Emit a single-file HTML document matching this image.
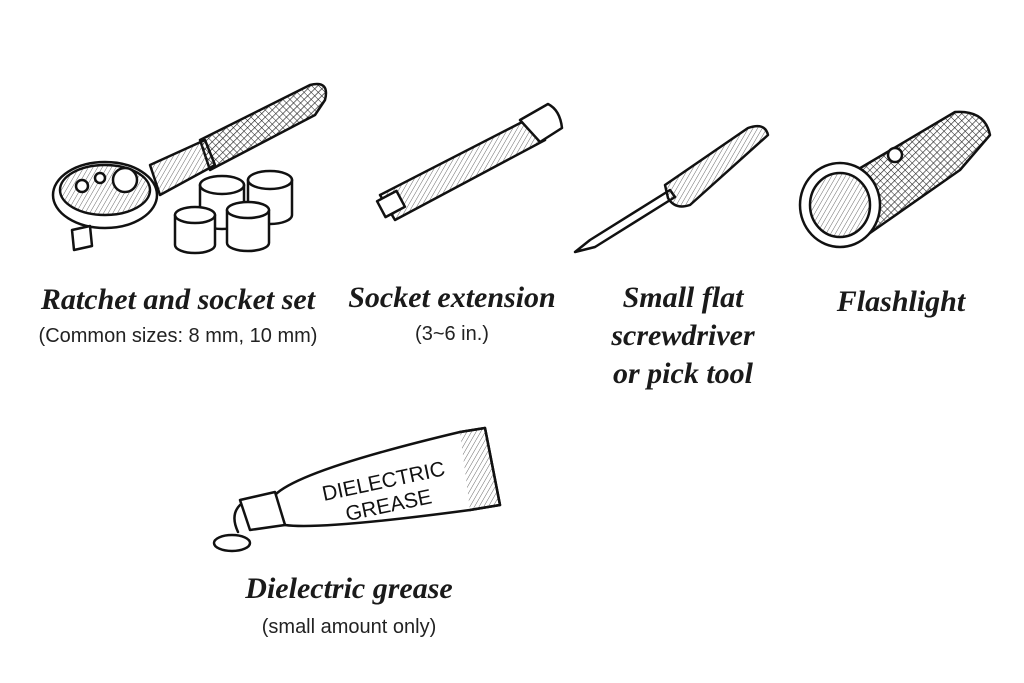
<!DOCTYPE html>
<html><head><meta charset="utf-8"><style>
html,body{margin:0;padding:0;background:#fff;}
.wrap{position:relative;width:1024px;height:683px;overflow:hidden;background:#fff;}
.t{position:absolute;transform:translateX(-50%);white-space:nowrap;font-family:"Liberation Serif",serif;font-style:italic;font-weight:bold;color:#1a1a1a;font-size:30px;line-height:34px;text-align:center;}
.s{position:absolute;transform:translateX(-50%);white-space:nowrap;font-family:"Liberation Sans",sans-serif;color:#222;font-size:20px;line-height:22px;}
svg{position:absolute;left:0;top:0;}
</style></head><body><div class="wrap">
<svg width="1024" height="683" viewBox="0 0 1024 683" fill="none" stroke="#111" stroke-width="2.5" stroke-linejoin="round" stroke-linecap="round">
<defs>
<pattern id="h" width="5" height="5" patternUnits="userSpaceOnUse" patternTransform="rotate(45)"><line x1="0" y1="0" x2="0" y2="5" stroke="#222" stroke-width="1.3"/><line x1="0" y1="0" x2="5" y2="0" stroke="#222" stroke-width="1"/></pattern>
<pattern id="l" width="4" height="4" patternUnits="userSpaceOnUse" patternTransform="rotate(30)"><line x1="0" y1="0" x2="0" y2="4" stroke="#444" stroke-width="0.8"/></pattern>
</defs>
<path d="M200,140 L310,85 Q330,80 325,100 L315,115 L210,170 Z" fill="url(#h)"/>
<path d="M150,165 L205,140 L215,165 L160,195 Z" fill="url(#l)"/>
<ellipse cx="105" cy="195" rx="52" ry="33" fill="#fff"/>
<ellipse cx="105" cy="190" rx="45" ry="25" fill="url(#l)"/>
<circle cx="125" cy="180" r="12" fill="#fff"/><circle cx="82" cy="186" r="6" fill="#fff"/><circle cx="100" cy="178" r="5" fill="#fff"/>
<path d="M72,230 L90,226 L92,246 L74,250 Z" fill="#fff"/>
<g fill="#fff"><path d="M200,185 v35 a22,9 0 0 0 44,0 v-35"/><ellipse cx="222" cy="185" rx="22" ry="9"/>
<path d="M248,180 v35 a22,9 0 0 0 44,0 v-35"/><ellipse cx="270" cy="180" rx="22" ry="9"/>
<path d="M175,215 v30 a20,8 0 0 0 40,0 v-30"/><ellipse cx="195" cy="215" rx="20" ry="8"/>
<path d="M227,210 v33 a21,8 0 0 0 42,0 v-33"/><ellipse cx="248" cy="210" rx="21" ry="8"/></g>
<path d="M380,195 L530,118 L545,140 L395,220 Z" fill="url(#l)"/>
<path d="M520,120 L548,104 Q560,110 562,128 L540,142 Z" fill="#fff"/>
<rect x="380" y="195" width="22" height="18" transform="rotate(-28 391 204)" fill="#fff"/>
<path d="M575,252 L590,240 L670,190 L675,197 L595,247 Z" fill="#fff"/>
<path d="M665,185 L748,128 Q765,122 768,135 L690,205 Q675,210 668,198 Z" fill="url(#l)"/>
<path d="M840,180 L955,112 Q985,110 990,135 L960,170 L860,240 Z" fill="url(#h)"/>
<ellipse cx="840" cy="205" rx="40" ry="42" fill="#fff"/>
<ellipse cx="840" cy="205" rx="30" ry="32" fill="url(#l)"/>
<circle cx="895" cy="155" r="7" fill="#fff"/>
<path d="M275,495 Q300,470 460,432 L485,428 L500,505 L470,510 Q320,530 285,525 Z" fill="#fff"/>
<path d="M460,432 L485,428 L500,505 L470,510" fill="url(#l)"/>
<path d="M240,500 L275,492 L285,525 L250,530 Z" fill="#fff"/>
<path d="M240,505 Q230,515 238,532"/>
<ellipse cx="232" cy="543" rx="18" ry="8" fill="#fff"/>
<text x="385" y="488" transform="rotate(-12 385 488)" font-family="Liberation Sans,sans-serif" font-size="21" fill="#111" stroke="none" text-anchor="middle">DIELECTRIC</text>
<text x="390" y="512" transform="rotate(-12 390 512)" font-family="Liberation Sans,sans-serif" font-size="21" fill="#111" stroke="none" text-anchor="middle">GREASE</text>
</svg>
<div class="t" style="left:178px;top:283px">Ratchet and socket set</div>
<div class="s" style="left:178px;top:325px">(Common sizes: 8 mm, 10 mm)</div>
<div class="t" style="left:452px;top:281px">Socket extension</div>
<div class="s" style="left:452px;top:323px">(3~6 in.)</div>
<div class="t" style="left:683px;top:281px">Small flat</div>
<div class="t" style="left:683px;top:319px">screwdriver</div>
<div class="t" style="left:683px;top:357px">or pick tool</div>
<div class="t" style="left:901px;top:285px">Flashlight</div>
<div class="t" style="left:349px;top:572px">Dielectric grease</div>
<div class="s" style="left:349px;top:616px">(small amount only)</div>
</div></body></html>
